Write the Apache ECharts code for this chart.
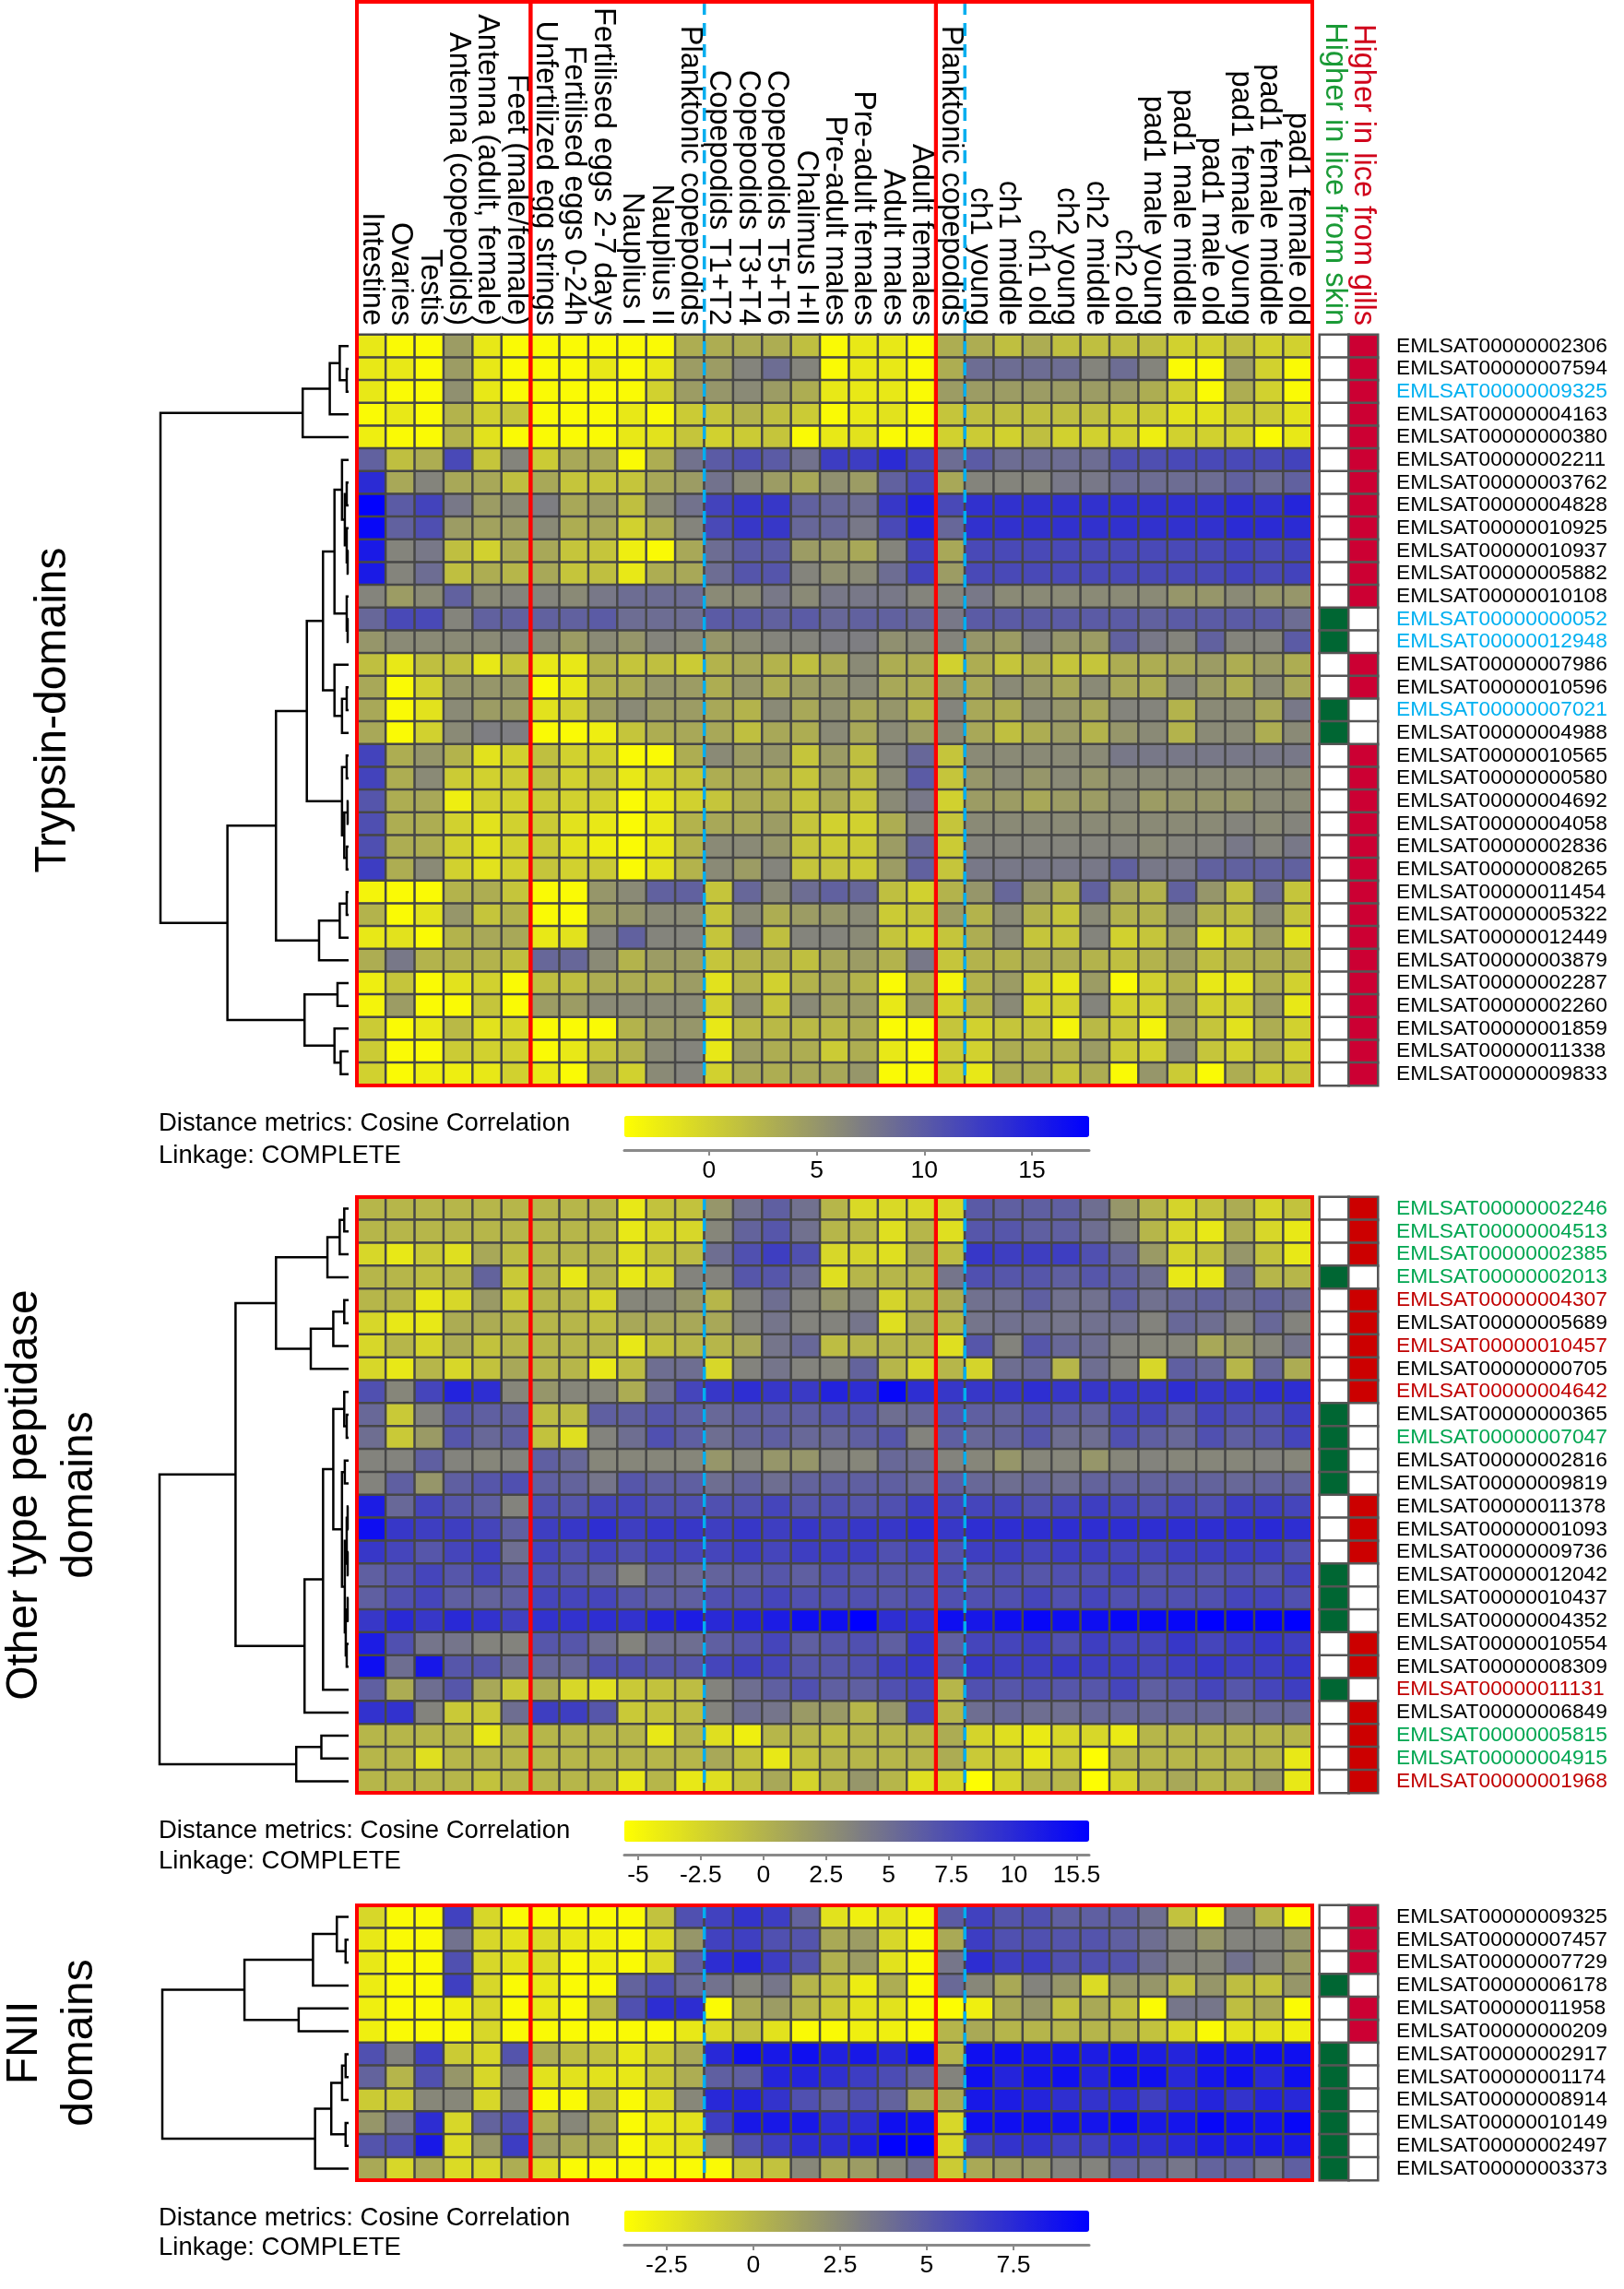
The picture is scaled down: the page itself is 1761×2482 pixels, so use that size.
<!DOCTYPE html>
<html><head><meta charset="utf-8">
<script src="https://cdn.jsdelivr.net/npm/echarts@6/dist/echarts.min.js"></script>
<style>html,body{margin:0;padding:0;background:#fff}#c{width:1761px;height:2482px}</style>
</head><body><div id="c"></div>
<script>
// ---------------- DATA ----------------
const columns = ['Intestine','Ovaries','Testis','Antenna (copepodids)','Antenna (adult, female)','Feet (male/female)',
 'Unfertilized egg strings','Fertilised eggs 0-24h','Fertilised eggs 2-7 days','Nauplius I','Nauplius II','Planktonic copepodids',
 'Copepodids T1+T2','Copepodids T3+T4','Copepodids T5+T6','Chalimus I+II','Pre-adult males','Pre-adult females','Adult males','Adult females',
 'Planktonic copepodids','ch1 young','ch1 middle','ch1 old','ch2 young','ch2 middle','ch2 old',
 'pad1 male young','pad1 male middle','pad1 male old','pad1 female young','pad1 female middle','pad1 female old'];
const indicatorNames = ['Higher in lice from skin','Higher in lice from gills'];
const columnGroups = [[0,5],[6,19],[20,32]];
const dashedBefore = [12,21];

const hm1Rows = ['EMLSAT00000002306','EMLSAT00000007594','EMLSAT00000009325','EMLSAT00000004163','EMLSAT00000000380','EMLSAT00000002211','EMLSAT00000003762','EMLSAT00000004828','EMLSAT00000010925','EMLSAT00000010937','EMLSAT00000005882','EMLSAT00000010108','EMLSAT00000000052','EMLSAT00000012948','EMLSAT00000007986','EMLSAT00000010596','EMLSAT00000007021','EMLSAT00000004988','EMLSAT00000010565','EMLSAT00000000580','EMLSAT00000004692','EMLSAT00000004058','EMLSAT00000002836','EMLSAT00000008265','EMLSAT00000011454','EMLSAT00000005322','EMLSAT00000012449','EMLSAT00000003879','EMLSAT00000002287','EMLSAT00000002260','EMLSAT00000001859','EMLSAT00000011338','EMLSAT00000009833'];
const hm1Values = [
[-2,-3.5,-3.5,4.5,-2,-3.5,-3.5,-3.5,-3.5,-3.5,-3.5,3,3,3,3,1.5,-3.5,-2,-2,-3.5,3,3,1.5,3,1.5,1.5,1.5,1.5,0,0,1.5,0,0],
[-2,-2,-3.5,4.5,-2,-3.5,-3.5,-3.5,-2,-3.5,-2,4.5,4.5,6.5,8.5,6.5,-3.5,-2,-2,-3.5,3,8.5,8.5,8.5,8.5,6.5,8.5,6.5,-3.5,-3.5,4.5,0,-3.5],
[-2,-3.5,-3.5,5.5,-2,-3.5,-3.5,-3.5,-3.5,-3.5,0,4.5,5,6,4.5,3,-2,-2,-2,-3.5,4.5,4.5,4.5,4.5,4.5,4.5,4.5,3,0,-3.5,3,0,-3.5],
[-3.5,-2,-3.5,2.5,0,1,-3.5,-3.5,-3.5,-2,-3.5,0.5,1,2.5,1.5,0.5,-3.5,-2,-1.5,-3.5,1,1.5,1.5,1.5,1.5,1.5,0.5,0.5,-1.5,-1.5,0.5,0.5,-1.5],
[-2.5,-3.5,-3.5,2.5,-1.5,-3.5,-3.5,-3.5,-3.5,-2,-1.5,1,0,0.5,1,-3.5,-2,-1.5,-3.5,-3.5,0,0.5,0,1.5,0,0,0,-2.5,0,0,0,-3.5,-2],
[9.5,1.5,3,11.5,1,6.5,0.5,3.5,3.5,-3.5,3,8,10,11,10,8,12.5,12.5,14,11.5,8.5,10,8.5,8.5,8.5,8.5,11,11,11.5,11.5,11.5,11.5,12],
[14,3.5,6.5,3.5,3.5,1.5,3.5,1,1,1,3.5,4.5,8,6,4.5,3.5,5.5,4.5,9.5,11.5,3.5,6.5,6.5,6.5,7.5,7.5,8.5,8.5,8.5,8.5,9.5,8.5,9.5],
[17.5,10,12,7.5,4.5,6,7,3.5,4.5,1.5,6,8,12,13,13,9.5,9,8.5,13,15,11.5,13.5,13.5,13.5,13.5,13.5,13.5,13.5,13.5,13.5,14,13.5,14.5],
[17,9.5,11,4.5,4,4.5,6,3,3.5,0,3,6.5,11.5,13,13,9,9,7.5,11.5,14.5,9,13.5,13.5,13.5,13.5,13.5,13.5,13.5,13.5,13.5,14,14,14],
[15.5,6.5,7.5,1.5,0,3,3.5,1,1,-2.5,-3.5,3.5,8.5,10,10,4.5,4.5,3.5,6.5,12,3.5,11.5,11.5,11.5,11.5,11.5,11.5,11.5,11.5,11.5,12,11.5,12],
[15.5,6.5,8.5,1.5,3,2.3,3.5,1,1.5,-2,3,3.5,8.5,10.5,10.5,6.5,5.5,6,8.5,12,4.5,11.5,11.5,11.5,11.5,11.5,11.5,11.5,11.5,11.5,12,11.5,12],
[6.5,4.5,6,9.5,6,6.5,6.5,6,7.5,8.5,8.5,8.5,6,6,7.5,6,7.5,7.5,7.5,6.5,6.5,7.5,6,6,6,6,6,6,5,5,6,5,5],
[9,11.5,11.5,6.5,9.5,9.5,9.5,9.5,10,8.5,8.5,8.5,10,10,9.5,10,9,9.5,9.5,9,7.5,10,10,10,10,10,10,9.5,10,10,10,10,8.5],
[5,6,6,6,6,6.5,6,4.5,6,5,6.5,6,5,6,6.5,6.5,7,7,5.5,6,6.5,5,4.5,6.5,5,4.5,9.5,7.5,6.5,9.5,6.5,6.5,10],
[1.5,-2,1.5,1.5,-2,1,-2,-2,2.5,1,1.5,0.5,2.5,3.5,2.5,1.5,3,6,3,3,0,3,1,2.5,1,1,3,3,3.5,4.5,3,4.5,3],
[3.5,-3.5,0,5,5,5,-3.5,-2,2.5,3,5,4.5,3,5,3,4.5,5,6,3.5,3,4.5,3.5,6,5,3.5,6,3.5,3,6.5,4.5,3,6,3.5],
[3.5,-3.5,-1.5,6,4.5,4.5,-1.5,0,4.5,6,4.5,4.5,3.5,2.5,6,3.5,5.5,3.5,5,2.5,6.5,3.5,3,6,5,3.5,6.5,6.5,2.5,6,6,3.5,7.5],
[3.5,-3.5,0,6,7,7,-3.5,-3.5,-2.5,1,3,3.5,3.5,1.5,3.5,3,6,3.5,6,4.5,6,3.5,1.5,3,4.5,2.5,5,6,2.5,6,6,3,6],
[12,3,5,2.5,-1.5,0,1.5,0,0,-3.5,-3.5,3,6,4.5,5,1,4.5,1.5,6.5,9,1,6,6,6,6,6,7.5,7.5,7.5,7.5,7.5,7.5,7.5],
[12,3,6,0.5,0,0.5,1.5,0,1,-2,0,1,3,3.5,3,1,4.5,1.5,6,10,1,5,6,5,6,5,6,6,6,6,6,6,6],
[10.5,3,3.5,-2.5,0,0,0.5,0,0,-3.5,-2,0,1,3,3,1,3.5,1,6,7.5,0,4.5,4.5,3.5,4.5,4.5,6,4.5,5,5,5,6,6],
[11,3,3,0,-1.5,0,0.5,-1.5,-2,-3.5,-2,2.5,3.5,3.5,4.5,1,0,0,3,6.5,1,6,6,6,6,6,6,6,6,6,6.5,6,6.5],
[11,3,3,0,-1.5,0,0.5,-1.5,-2.5,-3.5,-2,2.5,6,6,5,1,0.5,0.5,4.5,9,0.5,6.5,6.5,6.5,6.5,6.5,6.5,6,6.5,6.5,7.5,6.5,7.5],
[12.5,3,6,0,-1.5,0,1,0,0.5,-3.5,-1.5,2.5,6,4.5,6.5,1,1,0.5,4.5,9.5,1,7.5,7.5,7.5,7.5,7.5,9.5,7.5,7.5,9.5,9.5,9.5,9.5],
[-3,-3.5,-3.5,2.5,3,1,-3.5,-3.5,5,6,9.5,9.5,1,9,6,8.5,9.5,9,1.5,0,2.5,5,9,5,2.5,9.5,3.5,2.5,9.5,5,1.5,8.5,1],
[2.5,-3.5,-1.5,5,1,2.5,-3.5,-3.5,4.5,5,6,6,1,6,3,4.5,5,6,0.5,1,4.5,2.5,6,2.5,1,6,2.5,2.5,6,2.5,1.5,6,1],
[-2,-1.5,-3.5,2.5,3.5,3.5,-2,-1.5,6.5,9.5,6.5,6.5,1,7.5,1.5,6.5,6.5,6,1,0,1,3,6,1,1,6.5,0,1,4.5,-1.5,0,4.5,-1.5],
[3,7.5,2.5,2.5,2.5,1.5,9,9,6,2.5,4.5,4.5,1,2.5,2.5,1.5,3.5,4.5,2.5,7.5,1,2.5,2.5,3,3,2.5,1.5,2.5,4.5,1.5,2.5,3,2.5],
[-2.5,1,-3.5,-1.5,0,-3.5,1.5,1.5,3,3,3,4.5,-1.5,2.5,0,2.5,3.5,2.5,-3.5,2.5,-3,2.5,4.5,0,-2,4.5,-3.5,0,2.5,-2,-2,3,0],
[-3,4.5,-3.5,-3.5,1,-3.5,4.5,4.5,6,6,6,6,0,6,1,6,4,4.5,-2,4.5,0,2.5,6,0,0,6.5,0,0,4.5,0,0,4.5,-2],
[0.5,-3.5,-2,2,-1.5,-0.5,-3.5,-3.5,-3.5,2.5,4.5,5,-2,2,2,2,2,3,-3.5,-3.5,1,0,1,1,-3,2,0.5,-3,4,1,-1.5,3,0],
[0.5,-3.5,-3.5,0.5,0,0,-3.5,-2,1,2.5,6,6.5,-2,4.5,3,3,0.5,3,-2,-3.5,0.5,0,3,2.5,2.5,4.5,0.5,0,6,1,0,3,0],
[0,-3.5,-2.5,-2.5,-2,0,-2,-3.5,3,0,6,6.5,0,3.5,3,3.5,3.5,5,-3.5,-3.5,0,-2,3,3,1,3,-3.5,5,0.5,-3.5,3,0.5,1]
];
const hm1Dir = ['g','g','g','g','g','g','g','g','g','g','g','g','s','s','g','g','s','s','g','g','g','g','g','g','g','g','g','g','g','g','g','g','g'];
const hm1LabelColors = ['k','k','c','k','k','k','k','k','k','k','k','k','c','c','k','k','c','k','k','k','k','k','k','k','k','k','k','k','k','k','k','k','k'];

const hm2Rows = ['EMLSAT00000002246','EMLSAT00000004513','EMLSAT00000002385','EMLSAT00000002013','EMLSAT00000004307','EMLSAT00000005689','EMLSAT00000010457','EMLSAT00000000705','EMLSAT00000004642','EMLSAT00000000365','EMLSAT00000007047','EMLSAT00000002816','EMLSAT00000009819','EMLSAT00000011378','EMLSAT00000001093','EMLSAT00000009736','EMLSAT00000012042','EMLSAT00000010437','EMLSAT00000004352','EMLSAT00000010554','EMLSAT00000008309','EMLSAT00000011131','EMLSAT00000006849','EMLSAT00000005815','EMLSAT00000004915','EMLSAT00000001968'];
const hm2Values = [
[-0.2,-0.2,-0.2,-0.2,-0.2,-0.2,-0.2,-0.2,-0.2,-3.9,-1.1,-1.1,2.1,4.8,6.1,4.8,-0.2,-2.8,-2.8,-2.8,-2.6,6.5,6.1,6.1,6.1,5.0,2.1,-0.2,-2.4,-1.1,0.5,-2.4,-1.1],
[-0.2,-0.2,-0.2,-0.2,-0.2,-0.2,-0.2,-0.2,-0.2,-3.9,-2.6,-2.6,3.3,5.8,6.8,4.8,-0.2,-0.2,-3.2,-0.2,-3.2,6.8,6.8,6.1,6.1,5.0,3.3,-0.2,-2.6,-3.9,0.5,-2.6,-3.9],
[-2.6,-3.9,-1.6,-3.2,0.8,-0.7,-0.2,-0.2,-0.2,-3.2,-1.1,-0.7,5.0,7.2,8.5,7.2,-2.6,-2.4,-3.2,0.5,-0.7,9.0,8.5,8.5,8.5,7.2,5.5,1.8,-2.4,-1.1,2.1,-1.1,-3.9],
[-0.2,-0.2,-0.7,-0.2,5.8,-1.6,-0.2,-3.9,-0.2,-3.9,-2.6,3.5,3.5,6.8,6.8,5.0,-3.2,-0.2,-0.2,-0.2,4.5,7.2,6.8,6.8,6.1,6.8,6.1,5.0,-3.9,-3.9,5.0,-0.2,-0.2],
[-0.2,-0.2,-3.9,-2.6,1.8,-1.6,-0.2,-0.2,-2.6,3.3,3.3,2.1,-0.2,3.5,5.0,3.5,2.1,3.5,-2.4,-0.2,0.5,4.8,4.8,6.1,4.8,4.8,6.1,4.8,5.5,5.8,5.0,5.8,5.0],
[-2.6,-3.9,-3.9,0.5,0.5,-0.2,-0.2,-0.2,-0.7,0.8,0.8,0.8,0.8,3.5,4.5,3.5,3.5,4.5,-3.2,0.5,-0.2,4.5,4.8,4.8,4.5,4.8,4.8,3.5,5.5,5.0,3.5,5.5,3.5],
[-2.6,-0.2,-2.4,0.5,-1.1,-0.2,-0.2,-0.2,-0.2,-3.9,-1.1,-0.2,-0.2,0.8,4.5,5.5,-0.7,-0.2,-0.2,-0.2,-3.2,6.8,3.5,6.8,5.5,5.0,3.5,3.3,3.3,0.8,1.8,3.3,4.5],
[-2.6,-3.9,-0.2,-2.6,-1.1,0.8,-0.2,-0.2,-3.9,-0.7,5.0,5.0,-2.6,3.5,4.5,3.5,3.3,5.8,-0.2,-2.6,-0.2,-2.4,5.0,5.5,-0.2,5.0,3.5,-2.6,6.1,5.5,-0.2,5.5,0.5],
[7.2,3.3,8.0,10.5,9.7,3.3,2.1,3.3,3.3,0.5,5.0,8.0,9.0,9.7,9.0,8.8,10.5,9.7,12.5,9.7,9.0,9.0,9.0,9.7,9.0,9.0,9.0,9.0,9.7,9.0,9.0,9.7,9.7],
[5.5,-1.6,3.5,6.8,6.1,5.8,-0.7,-0.7,6.1,6.1,6.8,6.1,5.5,6.1,6.1,6.1,6.8,6.8,5.0,5.5,6.8,6.1,5.8,6.8,6.1,5.8,8.0,8.0,6.1,8.0,7.2,7.2,8.5],
[5.0,-1.6,1.8,6.8,5.5,6.1,-1.1,-3.2,3.5,5.0,7.2,6.1,5.0,5.8,6.1,5.5,5.5,6.1,6.8,3.5,6.1,5.5,5.8,6.8,5.0,5.0,7.2,6.1,5.5,7.2,6.1,6.8,8.0],
[3.5,3.5,6.1,3.5,3.3,3.5,6.1,5.5,3.3,3.3,3.3,3.3,2.1,3.3,2.1,2.1,3.5,3.3,5.5,5.0,3.5,3.3,2.1,3.3,3.3,2.1,3.3,3.5,3.3,3.3,3.3,3.5,3.3],
[3.5,6.1,2.1,6.1,6.8,7.2,6.1,5.8,4.5,6.8,6.1,6.1,5.0,5.8,5.0,5.8,6.1,6.1,6.1,5.5,6.1,5.5,5.0,5.5,5.0,5.8,5.8,5.8,5.8,5.8,5.5,5.8,5.8],
[11.0,5.5,8.0,6.8,6.1,3.5,7.2,6.8,8.0,8.0,7.2,7.2,7.2,7.2,8.0,6.8,7.2,6.8,7.2,8.5,8.0,8.0,8.0,7.2,8.0,8.5,8.0,7.2,8.0,7.2,8.5,8.5,8.0],
[12.0,9.0,8.5,8.5,8.0,6.1,8.5,9.0,9.7,8.5,9.0,9.0,8.5,9.0,8.5,9.0,8.5,9.0,9.0,9.7,9.0,9.7,9.7,9.7,9.7,9.7,9.7,9.7,9.7,9.7,9.7,10.0,9.7],
[9.0,8.0,6.8,8.0,8.5,5.0,8.0,7.2,8.0,7.2,8.0,8.0,8.0,8.5,8.0,8.5,8.5,8.5,7.2,8.0,7.2,8.5,8.5,8.0,8.5,8.5,8.0,8.0,8.5,8.5,8.5,8.5,7.2],
[6.1,6.8,8.0,6.8,8.0,6.1,7.2,6.8,5.8,3.5,5.8,5.5,5.8,6.1,6.8,6.1,7.2,6.8,6.8,6.8,7.2,6.8,7.2,6.8,7.2,7.2,8.0,6.8,7.2,6.8,7.2,6.8,8.0],
[6.1,7.2,8.0,6.1,5.8,6.1,8.0,8.0,8.0,6.8,6.1,6.1,7.2,7.2,8.0,7.2,7.2,7.2,6.8,7.2,7.2,7.2,7.2,8.0,7.2,8.0,7.2,7.2,7.2,7.2,8.0,8.0,7.2],
[9.0,10.0,9.0,10.0,9.4,8.3,9.4,9.4,9.7,9.4,10.5,11.0,10.0,10.5,11.0,12.0,12.0,13.0,9.7,9.4,12.0,11.3,12.0,12.5,12.0,12.0,12.5,12.5,12.5,13.0,12.8,12.8,13.0],
[11.0,7.2,4.5,4.5,3.5,3.5,6.8,6.8,5.0,3.5,5.0,5.0,6.1,6.8,8.0,6.1,6.8,7.2,6.1,9.0,6.1,8.0,8.0,8.5,7.2,8.5,8.0,8.0,9.0,8.0,8.5,9.0,8.5],
[12.0,5.0,11.3,6.8,6.8,5.0,5.5,5.5,7.2,7.2,6.8,6.8,8.0,8.5,8.0,6.8,6.8,7.2,8.5,9.0,6.8,9.0,8.5,8.5,9.0,8.5,8.5,8.0,8.5,9.0,8.5,8.5,9.0],
[6.1,0.5,5.0,6.8,0.8,-1.6,0.5,-2.6,-3.2,-1.6,-1.1,-0.7,3.5,5.0,6.1,7.2,6.1,6.1,7.2,8.0,-0.2,7.2,6.8,7.2,6.8,6.8,8.0,6.1,6.8,8.0,6.8,8.0,8.5],
[9.4,9.4,3.5,-1.6,-1.6,5.0,8.5,8.5,6.8,-1.6,-1.1,-0.7,3.5,5.0,4.5,1.8,1.8,-0.2,2.1,8.0,-0.2,5.0,5.5,5.0,5.0,5.5,5.5,5.5,5.5,5.5,5.0,5.5,5.5],
[-0.2,-0.2,-0.2,-0.2,-3.9,-0.2,-0.2,-0.2,-0.2,-0.2,-3.9,-0.2,-3.2,-4.4,-0.2,-0.2,-0.7,-0.2,-0.2,-0.2,0.5,-2.4,-3.2,-4.0,-2.6,-2.6,-4.0,-0.2,-0.2,-0.2,-0.2,-0.2,-0.2],
[-0.2,-0.2,-3.2,-0.2,-0.2,-0.2,-0.2,-0.2,-0.2,-0.2,-0.2,-0.2,0.8,-1.1,-3.9,-1.1,-0.2,-0.2,-0.2,-0.2,0.5,-1.6,-1.6,-3.9,-1.6,-5.4,-0.2,-0.2,-0.2,-0.2,-0.2,-0.2,-3.9],
[-0.2,-0.2,-0.2,-0.2,-1.1,-0.2,-0.2,-0.2,-0.2,-3.9,-0.2,-3.9,-3.2,-1.1,0.8,-2.4,-0.2,2.1,-0.2,-3.2,-2.4,-5.4,-2.4,-0.2,-0.2,-5.4,-2.4,-0.2,0.8,-0.2,-0.2,1.8,-3.9]
];
const hm2Dir = ['g','g','g','s','g','g','g','g','g','s','s','s','s','g','g','g','s','s','s','g','g','s','g','g','g','g'];
const hm2LabelColors = ['g','g','g','g','r','k','r','k','r','k','g','k','k','k','k','k','k','k','k','k','k','r','k','g','g','r'];

const hm3Rows = ['EMLSAT00000009325','EMLSAT00000007457','EMLSAT00000007729','EMLSAT00000006178','EMLSAT00000011958','EMLSAT00000000209','EMLSAT00000002917','EMLSAT00000001174','EMLSAT00000008914','EMLSAT00000010149','EMLSAT00000002497','EMLSAT00000003373'];
const hm3Values = [
[-1.6,-3.45,-3.45,6.3,-1.6,-3.45,-3.45,-3.45,-3.45,-3.45,-0.5,5.5,6.3,7.0,6.5,4.5,-2.2,-2.9,-2.2,-3.45,4.9,6.3,5.3,5.5,4.7,4.7,4.7,3.9,-0.5,-3.45,2.8,0.2,-3.45],
[-2.5,-3.45,-3.45,3.7,-1.6,-2.2,-1.8,-2.5,-2.9,-3.45,-1.8,1.8,6.3,6.4,5.5,5.3,0.8,1.5,-1.6,-3.45,0.8,6.5,5.5,5.5,5.3,5.3,4.7,3.9,2.8,1.8,2.8,2.8,1.8],
[-2.5,-3.45,-3.45,5.5,-1.6,-2.2,-1.8,-3.45,-2.9,-3.45,-1.8,4.7,7.3,7.8,6.5,5.3,0.4,1.5,-2.2,-3.45,3.5,7.3,6.4,6.5,5.5,5.5,5.3,3.9,2.8,2.6,3.7,2.8,1.5],
[-2.7,-3.45,-3.45,6.4,-1.6,-3.45,-2.5,-3.45,-3.45,4.5,5.5,4.2,3.7,2.8,3.5,0.2,-0.5,-2.7,0.6,-3.45,4.2,2.6,0.8,2.8,1.8,-1.8,1.8,1.8,-0.5,1.8,-0.3,-0.5,1.8],
[-2.9,-3.45,-3.45,-2.9,-1.6,-3.45,-2.5,-3.45,-0.1,5.5,7.3,7.3,-3.5,0.8,1.5,0.2,-1.0,-2.2,-2.2,-3.45,-3.6,-2.9,0.8,1.8,-0.5,0.8,-0.5,-3.5,3.5,3.5,-0.3,0.8,-3.5],
[-2.9,-3.45,-3.45,-3.45,-1.6,-3.45,-3.45,-3.45,-3.45,-3.45,-3.45,-2.5,-1.8,-0.5,-2.2,-3.45,-3.45,-2.9,-2.9,-3.45,0.2,0.8,0.2,0.2,0.2,0.2,0.2,-0.5,-1.6,-3.45,-2.2,-2.2,-2.9],
[5.5,2.8,6.4,-1.0,-1.6,5.3,0.6,-0.3,-0.5,-2.5,-1.0,0.8,7.6,8.9,8.4,8.9,8.0,8.4,7.6,8.9,0.2,8.9,8.9,8.6,8.6,8.2,8.7,8.2,7.8,8.7,8.7,8.9,8.9],
[4.5,0.2,5.5,1.8,-1.6,2.8,-2.2,-2.2,-2.2,-2.5,-1.0,0.6,4.7,4.7,7.8,7.8,7.2,6.5,5.7,4.5,2.8,8.9,7.8,8.6,8.9,7.8,8.9,8.9,7.6,8.6,8.9,7.6,8.9],
[-1.0,-1.0,2.6,2.6,-1.6,2.8,-3.45,-3.45,-0.3,-3.45,-1.8,2.6,7.6,7.8,7.0,5.5,4.7,5.5,4.5,0.8,0.8,8.4,8.2,7.8,7.2,7.0,7.2,6.4,7.3,7.8,7.0,7.8,7.6],
[1.8,3.5,7.3,-1.6,4.5,5.5,0.6,2.6,0.8,-3.45,-2.5,-2.2,6.5,8.4,8.4,8.4,7.2,7.3,8.9,8.9,-1.6,8.9,8.9,8.9,8.7,8.6,9.1,8.4,8.6,9.3,8.9,8.7,9.3],
[5.3,5.5,8.4,-1.8,1.8,6.5,1.5,0.8,0.8,-3.45,-2.5,-2.2,2.8,5.5,6.5,7.3,7.3,8.2,9.6,9.6,-1.6,6.4,7.0,7.0,6.4,6.4,7.3,7.2,7.6,8.2,8.2,8.4,8.4],
[0.8,-1.6,0.8,-1.8,-1.6,0.6,-1.8,-3.45,-3.45,-3.45,-3.45,-3.45,-3.45,-1.0,-0.5,2.6,0.8,1.5,2.6,3.9,-1.0,0.8,1.5,1.8,2.8,2.8,4.5,4.2,3.5,4.5,4.5,3.5,4.7]
];
const hm3Dir = ['g','g','g','s','g','g','s','s','s','s','s','s'];
const hm3LabelColors = ['k','k','k','k','k','k','k','k','k','k','k','k'];

// dendrograms: [left, right, height] with leaves = row index
const t1A = [[[0,[1,2,0.01],0.047],3,0.10],4,0.244];
const t1B1 = [5,[[6,7,0.01],[8,[9,10,0.005],0.01],0.02],0.035];
const t1B2 = [11,[12,13,0.005],0.01];
const t1B3 = [14,[[15,16,0.01],17,0.035],0.075];
const t1B4 = [[18,19,0.01],[[20,21,0.005],[22,23,0.01],0.023],0.035];
const t1C = [[[24,25,0.01],26,0.047],27,0.157];
const t1D = [[28,29,0.059],[30,[31,32,0.042],0.075],0.234];
const tree1 = [t1A,[[[[[t1B1,t1B2,0.075],t1B3,0.136],t1B4,0.222],t1C,0.386],t1D,0.644],1.0];

const t2A = [[[[0,1,0.023],2,0.047],3,0.112],[[[4,5,0.023],6,0.081],7,0.2],0.384];
const t2B1ab = [[11,12,0.02],[[[13,14,0.005],[15,16,0.005],0.01],[[17,18,0.005],[19,20,0.01],0.015],0.02],0.035];
const t2B = [[[[8,[9,10,0.01],0.023],t2B1ab,0.081],21,0.135],22,0.233];
const t2C = [[23,24,0.144],25,0.277];
const tree2 = [[t2A,t2B,0.598],t2C,1.0];

const t3A = [[[0,[1,2,0.016],0.063],3,0.191],[4,5,0.268],0.559];
const t3B = [[[[6,7,0.016],8,0.035],[9,10,0.016],0.093],11,0.18];
const tree3 = [t3A,t3B,1.0];

// colour-bar ranges and ticks
const hm1Range = [-3.94, 17.66];
const hm2Range = [-5.55, 13.0];
const hm3Range = [-3.72, 9.68];
const cb1Ticks = [0,5,10,15];            const cb1Labels = ['0','5','10','15'];
const cb2Ticks = [-5,-2.5,0,2.5,5,7.5,10,12.5]; const cb2Labels = ['-5','-2.5','0','2.5','5','7.5','10','15.5'];
const cb3Ticks = [-2.5,0,2.5,5,7.5];     const cb3Labels = ['-2.5','0','2.5','5','7.5'];

// ---------------- CHART ----------------
const FONT = 'Liberation Sans';
const labelColorMap = {k:'#000000', c:'#00b0f0', g:'#00a651', r:'#c00000'};
const option = {animation:false, backgroundColor:'#ffffff', textStyle:{fontFamily:FONT},
  grid:[], xAxis:[], yAxis:[], series:[], visualMap:[], graphic:[]};

function dendroSegments(tree){
  const segs = [];
  (function walk(n){
    if (typeof n === 'number') return {y:n, h:0};
    const l = walk(n[0]), r = walk(n[1]), h = n[2];
    segs.push([[l.h,l.y],[h,l.y],[h,r.y],[r.h,r.y]]);
    return {y:(l.y+r.y)/2, h:h};
  })(tree);
  return segs;
}
function decoRender(extraTop){
  return function(params, api){
    const cs = params.coordSys;
    const bw = api.size([1,0])[0];
    const a = api.value(0), b = api.value(2), kind = api.value(3);
    const xa = api.coord([a,0])[0] - bw/2;
    const top = cs.y - extraTop, h = cs.height + extraTop;
    if (kind === 0) {
      const xb = api.coord([b,0])[0] + bw/2;
      return {type:'rect', z2:20, shape:{x:xa, y:top, width:xb-xa, height:h},
        style:{fill:'none', stroke:'#ff0000', lineWidth:4}};
    }
    return {type:'line', z2:10, shape:{x1:xa, y1:top, x2:xa, y2:top+h},
      style:{stroke:'#00aeef', lineWidth:3.5, lineDash:[14,9]}};
  };
}

function addPanel(cfg){
  const gi = option.grid.length;
  const n = cfg.rows.length;
  // heatmap
  option.grid.push({left:387, top:cfg.top, width:1036, height:cfg.height});
  option.xAxis.push({gridIndex:gi, type:'category', data:columns, position:'top',
    axisLine:{show:false}, axisTick:{show:false}, splitLine:{show:false},
    axisLabel:{show:cfg.showCols, rotate:90, interval:0, fontSize:32.5, fontFamily:FONT, color:'#000', margin:10}});
  option.yAxis.push({gridIndex:gi, type:'category', data:cfg.rows, inverse:true, show:false});
  const hm = [];
  cfg.values.forEach((row,r)=>row.forEach((v,c)=>hm.push([c,r,v])));
  const si = option.series.length;
  option.series.push({type:'heatmap', xAxisIndex:gi, yAxisIndex:gi, data:hm, progressive:0,
    itemStyle:{borderColor:'#474747', borderWidth:2.5}, emphasis:{disabled:true}, silent:true});
  const deco = dashedBefore.map(c=>[c,0,c,1]).concat(columnGroups.map(g=>[g[0],0,g[1],0]));
  option.series.push({type:'custom', xAxisIndex:gi, yAxisIndex:gi, data:deco, encode:{x:0,y:1},
    renderItem:decoRender(cfg.extraTop), clip:false, silent:true, z:5});
  // dendrogram
  option.grid.push({left:cfg.dLeft, top:cfg.top, width:378-cfg.dLeft, height:cfg.height});
  option.xAxis.push({gridIndex:gi+1, type:'value', min:0, max:1, inverse:true, show:false});
  option.yAxis.push({gridIndex:gi+1, type:'value', min:-0.5, max:n-0.5, inverse:true, show:false});
  option.series.push({type:'lines', coordinateSystem:'cartesian2d', xAxisIndex:gi+1, yAxisIndex:gi+1,
    polyline:true, silent:true, data:dendroSegments(cfg.tree).map(c=>({coords:c})),
    lineStyle:{color:'#000', width:2.5, opacity:1}});
  // indicator columns + row labels
  option.grid.push({left:1431, top:cfg.top, width:63, height:cfg.height});
  option.xAxis.push({gridIndex:gi+2, type:'category', data:indicatorNames, position:'top',
    axisLine:{show:false}, axisTick:{show:false},
    axisLabel:{show:cfg.showCols, rotate:90, interval:0, fontSize:32.5, fontFamily:FONT, margin:10,
      color:(v,i)=> i===0 ? '#1a9a36' : '#d0021b'}});
  option.yAxis.push({gridIndex:gi+2, type:'category', data:cfg.rows, inverse:true, position:'right',
    axisLine:{show:false}, axisTick:{show:false},
    axisLabel:{interval:0, fontSize:22.8, fontFamily:FONT, margin:20, color:(v,i)=>labelColorMap[cfg.labelColors[i]]}});
  const ind = [];
  cfg.dir.forEach((d,r)=>{
    ind.push({value:[0,r,0], itemStyle:{color: d==='s' ? '#006633' : '#ffffff'}});
    ind.push({value:[1,r,0], itemStyle:{color: d==='g' ? cfg.gillsColor : '#ffffff'}});
  });
  option.series.push({type:'heatmap', xAxisIndex:gi+2, yAxisIndex:gi+2, data:ind, silent:true,
    itemStyle:{borderColor:'#555555', borderWidth:2.5}, emphasis:{disabled:true}});
  // colour bar
  option.visualMap.push({type:'continuous', seriesIndex:si, min:cfg.range[0], max:cfg.range[1],
    orient:'horizontal', left:677, top:cfg.cbTop, itemWidth:23, itemHeight:504, calculable:false,
    hoverLink:false, padding:0, inRange:{color:['#ffff00','#808080','#0000ff']}});
  const ci = option.grid.length;
  option.grid.push({left:677, width:504, top:cfg.axisY-1, height:1});
  option.xAxis.push({gridIndex:ci, type:'value', min:cfg.range[0], max:cfg.range[1], position:'bottom',
    splitLine:{show:false},
    axisLine:{show:true, onZero:false, lineStyle:{color:'#8a8a8a', width:3}},
    axisTick:{show:true, length:6, customValues:cfg.ticks, lineStyle:{color:'#8a8a8a', width:2}},
    axisLabel:{customValues:cfg.ticks, fontSize:26.5, fontFamily:FONT, color:'#000', margin:9,
      formatter:(v)=>{const k = cfg.ticks.indexOf(v); return k>=0 ? cfg.tickLabels[k] : String(v);}}});
  option.yAxis.push({gridIndex:ci, type:'value', min:0, max:1, show:false});
  option.series.push({type:'line', xAxisIndex:ci, yAxisIndex:ci, data:[], silent:true});
  option.graphic.push({type:'text', x:172, y:cfg.textY[0], style:{text:'Distance metrics: Cosine Correlation', fontSize:27.5, fontFamily:FONT, fill:'#000', align:'left', verticalAlign:'middle'}});
  option.graphic.push({type:'text', x:172, y:cfg.textY[1], style:{text:'Linkage: COMPLETE', fontSize:27.5, fontFamily:FONT, fill:'#000', align:'left', verticalAlign:'middle'}});
  // panel title
  option.graphic.push({type:'text', x:cfg.titleX, y:cfg.top + cfg.height/2, rotation:Math.PI/2,
    style:{text:cfg.title, fontSize:48, fontFamily:FONT, fill:'#000', align:'center', verticalAlign:'middle', lineHeight:60}});
}

addPanel({rows:hm1Rows, values:hm1Values, dir:hm1Dir, labelColors:hm1LabelColors, tree:tree1, range:hm1Range,
  ticks:cb1Ticks, tickLabels:cb1Labels, top:363, height:814, dLeft:174, showCols:true, extraTop:361,
  gillsColor:'#cc0033', cbTop:1210, axisY:1247, textY:[1218,1253], title:'Trypsin-domains', titleX:58});
addPanel({rows:hm2Rows, values:hm2Values, dir:hm2Dir, labelColors:hm2LabelColors, tree:tree2, range:hm2Range,
  ticks:cb2Ticks, tickLabels:cb2Labels, top:1298, height:646, dLeft:173, showCols:false, extraTop:0,
  gillsColor:'#cc0000', cbTop:1974, axisY:2011, textY:[1985,2018], title:'Other type peptidase\ndomains', titleX:57});
addPanel({rows:hm3Rows, values:hm3Values, dir:hm3Dir, labelColors:hm3LabelColors, tree:tree3, range:hm3Range,
  ticks:cb3Ticks, tickLabels:cb3Labels, top:2066, height:298, dLeft:176, showCols:false, extraTop:0,
  gillsColor:'#cc0033', cbTop:2397, axisY:2434, textY:[2405,2437], title:'FNII\ndomains', titleX:57});

const chart = echarts.init(document.getElementById('c'), null, {renderer:'canvas'});
chart.setOption(option);
</script></body></html>
